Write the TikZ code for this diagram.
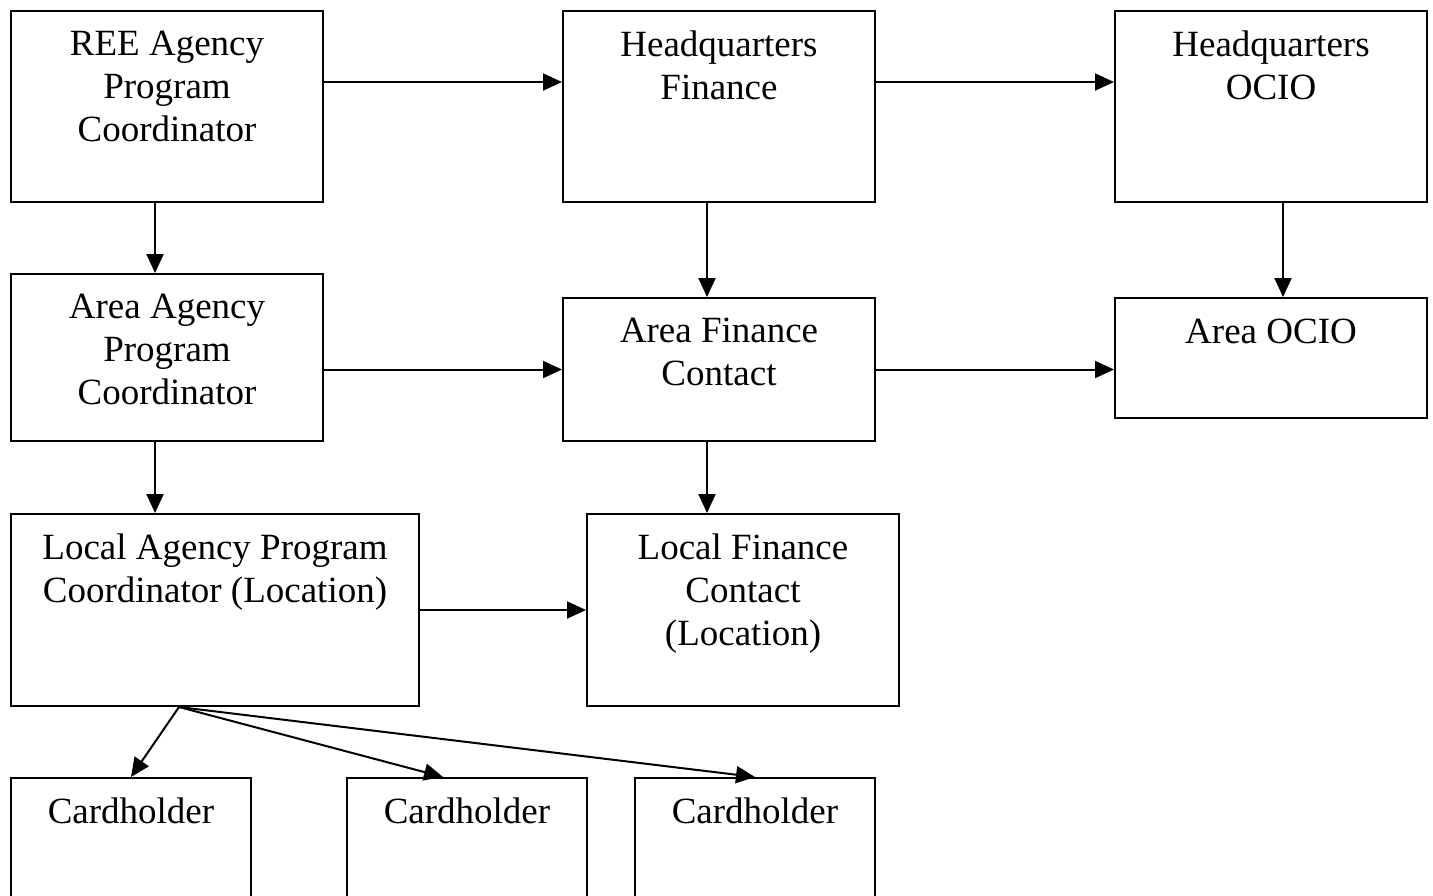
\documentclass[tikz,border=0pt]{standalone}
\usepackage{fontspec}
\setmainfont{Liberation Serif}
\usepackage{tikz}
\usetikzlibrary{arrows.meta,positioning}
\tikzstyle{arrow} = [line width=2pt,-{Triangle[length=19pt,width=17pt]}]
\tikzstyle{office} = [rectangle, draw, line width=2pt, inner sep=0pt, anchor=north west, minimum width=312pt]
\tikzstyle{title} = [anchor=north, align=center, inner sep=0pt, font=\fontsize{37}{43}\selectfont, execute at begin node=\strut]

\begin{document}
\begin{tikzpicture}[x=1pt, y=-1pt]
\clip (0,0) rectangle (1433,895);
% Top row
\node (ree) [office, minimum height=191pt] at (10,10) {};
\node (hqfin) [office, minimum height=191pt] at (562,10) {};
\node (hqocio) [office, minimum height=191pt] at (1114,10) {};
% Area row
\node (areaag) [office, minimum height=167pt] at (10,273) {};
\node (areafin) [office, minimum height=143pt] at (562,297) {};
\node (areaocio) [office, minimum height=120pt] at (1114,297) {};
% Local row
\node (localag) [office, minimum width=408pt, minimum height=192pt] at (10,513) {};
\node (localfin) [office, minimum height=192pt] at (586,513) {};
% Cardholders
\node (card1) [office, minimum width=240pt, minimum height=150pt] at (10,777) {};
\node (card2) [office, minimum width=240pt, minimum height=150pt] at (346,777) {};
\node (card3) [office, minimum width=240pt, minimum height=150pt] at (634,777) {};

% Texts
\node (reeT) [title] at ([yshift=-21pt]ree.north) {REE Agency\\Program\\Coordinator};
\node (hqfinT) [title] at ([yshift=-21pt]hqfin.north) {Headquarters\\Finance};
\node (hqocioT) [title] at ([yshift=-21pt]hqocio.north) {Headquarters\\OCIO};
\node (areaagT) [title] at ([yshift=-21pt]areaag.north) {Area Agency\\Program\\Coordinator};
\node (areafinT) [title] at ([yshift=-21pt]areafin.north) {Area Finance\\Contact};
\node (areaocioT) [title] at ([yshift=-16pt]areaocio.north) {Area OCIO};
\node (localagT) [title] at ([yshift=-21pt]localag.north) {Local Agency Program\\Coordinator (Location)};
\node (localfinT) [title] at ([yshift=-21pt]localfin.north) {Local Finance\\Contact\\(Location)};
\node (card1T) [title] at ([yshift=-16pt]card1.north) {Cardholder};
\node (card2T) [title] at ([yshift=-16pt]card2.north) {Cardholder};
\node (card3T) [title] at ([yshift=-16pt]card3.north) {Cardholder};

% Connectors
\draw[arrow] ([yshift=-72pt]ree.north east) -- ([yshift=-72pt]hqfin.north west);
\draw[arrow] ([yshift=-72pt]hqfin.north east) -- ([yshift=-72pt]hqocio.north west);
\draw[arrow] ([xshift=-12pt]ree.south) -- ([xshift=-12pt]areaag.north);
\draw[arrow] ([xshift=-12pt]hqfin.south) -- ([xshift=-12pt]areafin.north);
\draw[arrow] ([xshift=12pt]hqocio.south) -- ([xshift=12pt]areaocio.north);
\draw[arrow] (areaag.east |- areafin.west) -- (areafin.west);
\draw[arrow] (areafin.east) -- (areafin.east -| areaocio.west);
\draw[arrow] ([xshift=-12pt]areaag.south) -- ([xshift=-12pt]areaag.south |- localag.north);
\draw[arrow] ([xshift=-12pt]areafin.south) -- ([xshift=-12pt]areafin.south |- localfin.north);
\draw[arrow] (localag.east) -- (localfin.west);
\coordinate (fan) at ([xshift=-36pt]localag.south);
\draw[arrow] (fan) -- (card1.north);
\draw[arrow] (fan) -- ([xshift=-24pt]card2.north);
\draw[arrow] (fan) -- (card3.north);
\end{tikzpicture}
\end{document}
